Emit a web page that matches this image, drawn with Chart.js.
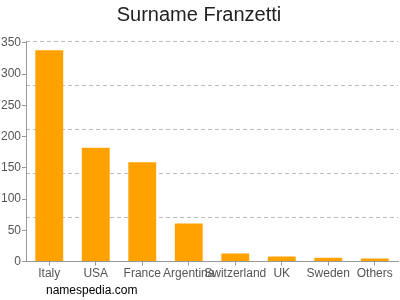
<!DOCTYPE html>
<html>
<head>
<meta charset="utf-8">
<script src="https://cdn.jsdelivr.net/npm/chart.js@4.4.0/dist/chart.umd.min.js"></script>
<style>
	html, body { margin: 0; padding: 0; background: #fff; }
	#wrap { position: relative; width: 400px; height: 300px; }
	#foot { position: absolute; left: 46px; top: 283px; font: 12px "Liberation Sans", Arial, sans-serif; color: #000; }
</style>
</head>
<body>
<div id="wrap">
	<canvas id="chart" width="400" height="300"></canvas>
	<div id="foot">namespedia.com</div>
</div>
<script>
// datos del grafico
const countries = ['Italy', 'USA', 'France', 'Argentina', 'Switzerland', 'UK', 'Sweden', 'Others'];
const counts = [338, 182, 159, 61, 13, 8, 6, 5];
const yTicks = [0, 50, 100, 150, 200, 250, 300, 350];
const yMax = 353;

const font = "'Liberation Sans', Arial, sans-serif";

new Chart(document.getElementById('chart'), {
	type: 'bar',
	data: {
		labels: countries,
		datasets: [{
			label: 'Surname',
			data: counts,
			backgroundColor: '#ffa200',
			barPercentage: 0.6,
			categoryPercentage: 1
		}]
	},
	options: {
		responsive: false,
		animation: false,
		layout: { padding: { left: 0, right: 2, top: 0, bottom: 18 } },
		plugins: {
			legend: { display: false },
			tooltip: { enabled: false },
			title: {
				display: true,
				text: 'Surname Franzetti',
				color: '#222',
				font: { family: font, size: 20, weight: 'normal' },
				padding: { top: 3, bottom: 14 }
			}
		},
		scales: {
			x: {
				grid: { display: true, drawOnChartArea: false, offset: false, color: '#999', tickLength: 4 },
				border: { color: '#999' },
				ticks: { color: '#555', font: { family: font, size: 12 }, maxRotation: 0, autoSkip: false, padding: 1 }
			},
			y: {
				min: 0,
				max: yMax,
				afterBuildTicks: axis => { axis.ticks = yTicks.map(v => ({ value: v })); },
				grid: { display: true, drawOnChartArea: false, color: '#999', tickLength: 4 },
				border: { color: '#999' },
				ticks: { color: '#555', font: { family: font, size: 12 }, padding: 1 }
			},
			// lineas punteadas de la cuadricula
			yGrid: {
				position: 'right',
				min: 0,
				max: yMax,
				ticks: { display: false, stepSize: yMax / 5 },
				grid: { color: '#bbb', drawTicks: false },
				border: { display: false, dash: [4, 3] }
			}
		}
	}
});
</script>
</body>
</html>
